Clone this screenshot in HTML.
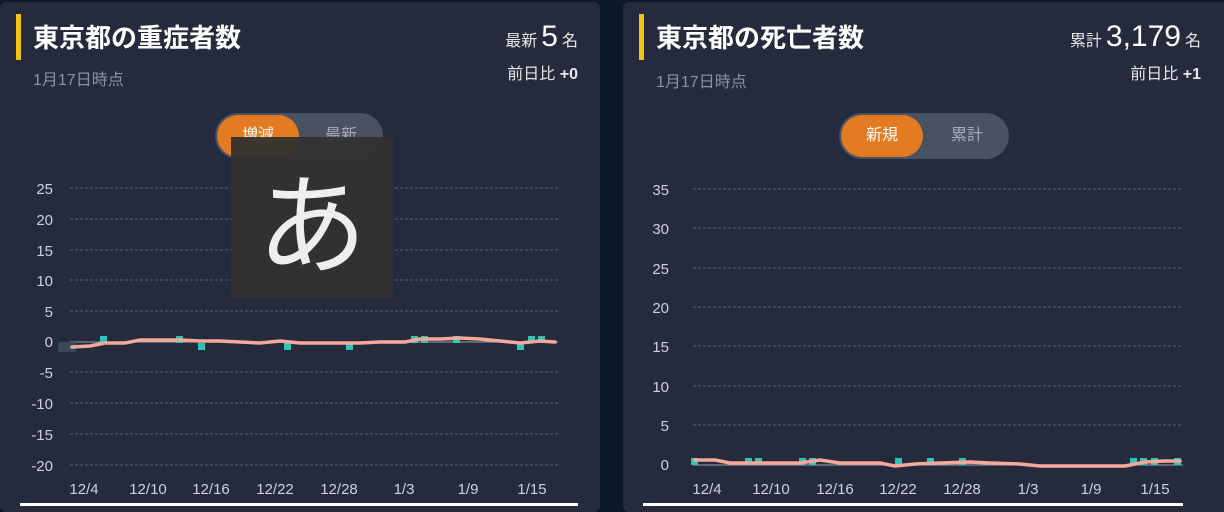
<!DOCTYPE html>
<html><head><meta charset="utf-8"><style>
body{margin:0;width:1224px;height:506px;background:#0c1a28;overflow:hidden;position:relative;font-family:"Liberation Sans","Noto Sans CJK JP",sans-serif;}
.card{position:absolute;top:2px;width:600px;height:510px;background:#252a3c;border-radius:6px;}
.bar{position:absolute;left:16px;top:12px;width:5px;height:46px;background:#f1c40f;}
.t{position:absolute;left:33px;top:16px;font-size:26px;font-weight:bold;color:#fff;}
.sub{position:absolute;left:33px;top:64px;font-size:16px;color:#8c92a4;}
.r1{position:absolute;right:22px;top:18px;color:#e6e6e6;font-size:16px;}
.r1 b{font-size:30px;font-weight:normal;color:#fff;margin:0 4px;}
.r2{position:absolute;right:22px;top:58px;color:#e6e6e6;font-size:16px;}
.pill{position:absolute;top:111px;height:46px;width:168px;background:#4a5163;border-radius:23px;}
.on{position:absolute;left:2px;top:2px;width:82px;height:42px;border-radius:21px;background:#e27b22;color:#fff;font-size:16px;text-align:center;line-height:42px;}
.off{position:absolute;right:0;top:0;width:84px;line-height:46px;text-align:center;color:#aab;font-size:16px;}
svg{position:absolute;left:0;top:0}
</style></head><body>
<div class="card" style="left:0">
<div class="bar"></div><div class="t">東京都の重症者数</div><div class="sub">1月17日時点</div>
<div class="r1">最新<b>5</b>名</div><div class="r2">前日比 <b>+0</b></div>
<div class="pill" style="left:215px"><div class="on">増減</div><div class="off">最新</div></div>
</div>
<div class="card" style="left:623px;width:610px">
<div class="bar"></div><div class="t">東京都の死亡者数</div><div class="sub" style="top:66px">1月17日時点</div>
<div class="r1" style="right:32px">累計<b>3,179</b>名</div><div class="r2" style="right:32px">前日比 <b>+1</b></div>
<div class="pill" style="left:216px;width:170px"><div class="on">新規</div><div class="off">累計</div></div>
</div>
<svg width="1224" height="506" font-family="Liberation Sans,sans-serif" font-size="15" fill="#cfd2da">
<g stroke="#5b6275" stroke-dasharray="3,2" stroke-width="1">
<line x1="70" x2="558" y1="188" y2="188"/><line x1="70" x2="558" y1="219" y2="219"/><line x1="70" x2="558" y1="250" y2="250"/><line x1="70" x2="558" y1="280" y2="280"/><line x1="70" x2="558" y1="311" y2="311"/><line x1="70" x2="558" y1="372" y2="372"/><line x1="70" x2="558" y1="403" y2="403"/><line x1="70" x2="558" y1="434" y2="434"/><line x1="70" x2="558" y1="465" y2="465"/>
<line x1="693" x2="1183" y1="189" y2="189"/><line x1="693" x2="1183" y1="228" y2="228"/><line x1="693" x2="1183" y1="268" y2="268"/><line x1="693" x2="1183" y1="307" y2="307"/><line x1="693" x2="1183" y1="346" y2="346"/><line x1="693" x2="1183" y1="386" y2="386"/><line x1="693" x2="1183" y1="425" y2="425"/>
</g>
<line x1="70" x2="558" y1="342" y2="342" stroke="#9aa0ad"/>
<line x1="693" x2="1183" y1="465" y2="465" stroke="#9aa0ad"/>
<g text-anchor="end"><text x="53" y="194">25</text><text x="53" y="225">20</text><text x="53" y="256">15</text><text x="53" y="286">10</text><text x="53" y="317">5</text><text x="53" y="347">0</text><text x="53" y="378">-5</text><text x="53" y="409">-10</text><text x="53" y="440">-15</text><text x="53" y="471">-20</text>
<text x="669" y="195">35</text><text x="669" y="234">30</text><text x="669" y="274">25</text><text x="669" y="313">20</text><text x="669" y="352">15</text><text x="669" y="392">10</text><text x="669" y="431">5</text><text x="669" y="470">0</text></g>
<g text-anchor="middle"><text x="84" y="494">12/4</text><text x="148" y="494">12/10</text><text x="211" y="494">12/16</text><text x="275" y="494">12/22</text><text x="339" y="494">12/28</text><text x="404" y="494">1/3</text><text x="468" y="494">1/9</text><text x="532" y="494">1/15</text>
<text x="707" y="494">12/4</text><text x="771" y="494">12/10</text><text x="835" y="494">12/16</text><text x="898" y="494">12/22</text><text x="962" y="494">12/28</text><text x="1028" y="494">1/3</text><text x="1091" y="494">1/9</text><text x="1155" y="494">1/15</text></g>
<g fill="#2ec4b6"><rect x="58" y="342" width="18" height="10" fill="#3a4a55"/><rect x="100" y="336" width="7" height="7"/><rect x="176" y="336" width="7" height="7"/><rect x="198" y="343" width="7" height="7"/><rect x="284" y="343" width="7" height="7"/><rect x="346" y="343" width="7" height="7"/><rect x="411" y="336" width="7" height="7"/><rect x="421" y="336" width="7" height="7"/><rect x="453" y="336" width="7" height="7"/><rect x="517" y="343" width="7" height="7"/><rect x="528" y="336" width="7" height="7"/><rect x="538" y="336" width="7" height="7"/>
<rect x="691" y="458" width="7" height="7"/><rect x="745" y="458" width="7" height="7"/><rect x="755" y="458" width="7" height="7"/><rect x="799" y="458" width="7" height="7"/><rect x="809" y="458" width="7" height="7"/><rect x="895" y="458" width="7" height="7"/><rect x="927" y="458" width="7" height="7"/><rect x="959" y="458" width="7" height="7"/><rect x="1130" y="458" width="7" height="7"/><rect x="1140" y="458" width="7" height="7"/><rect x="1151" y="458" width="7" height="7"/><rect x="1174" y="458" width="7" height="7"/></g>
<g fill="none" stroke="#f4a99a" stroke-width="3.5" stroke-linecap="round">
<polyline points="72,347 90,346 105,343 125,343 140,340 160,340 180,340 200,341 220,341 240,342 260,343 280,341 300,343 320,343 340,343 360,343 380,342 405,342 420,339 440,339 460,338 480,339 500,341 520,343 540,341 555,342"/>
<polyline points="695,460 715,460 730,463 760,463 780,463 800,463 820,460 840,463 880,463 895,466 915,464 940,463 970,462 990,463 1020,464 1040,466 1100,466 1125,466 1145,462 1165,461 1180,461"/>
</g>
</svg>
<div style="position:absolute;left:20px;top:503px;width:558px;height:3px;background:#fff"></div>
<div style="position:absolute;left:643px;top:503px;width:540px;height:3px;background:#fff"></div>
<div style="position:absolute;left:231px;top:137px;width:162px;height:161px;background:rgba(50,50,50,0.95);color:#eee;font-size:110px;text-align:center;line-height:160px;font-family:'Noto Sans CJK JP',sans-serif">あ</div>
</body></html>
